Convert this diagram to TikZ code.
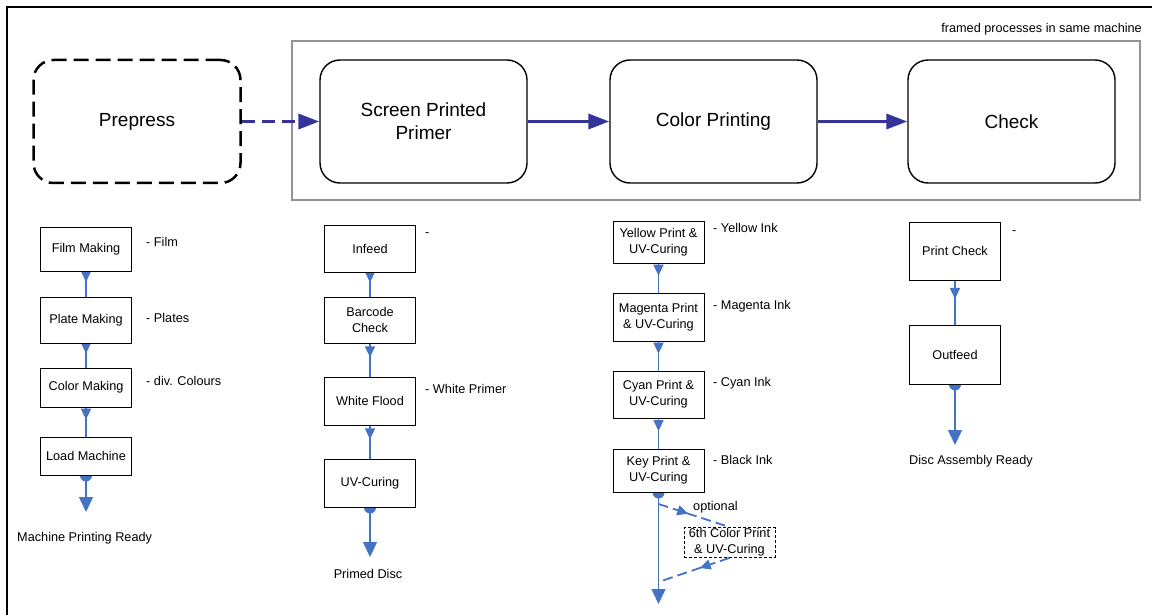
\documentclass[tikz,border=0pt]{standalone}
\usepackage{fontspec}
\setmainfont{Liberation Sans}
\usetikzlibrary{arrows.meta,decorations.markings,backgrounds,positioning}

\definecolor{flowblue}{RGB}{68,114,196}
\definecolor{mainblue}{RGB}{51,51,153}

\begin{document}
\begin{tikzpicture}[x=1pt,y=-1pt,
  stage/.style={draw, rounded corners=20pt, minimum width=207pt, minimum height=123pt, line width=1.4pt, align=center, fill=white, font=\fontsize{19}{23}\selectfont},
  task/.style={draw, minimum width=91pt, line width=1pt, align=center, fill=white, inner sep=1pt, font=\fontsize{12.7}{16}\selectfont},
  note/.style={anchor=west, inner sep=0pt, font=\fontsize{12.7}{16}\selectfont},
  bigarrow/.style={mainblue, line width=3.5pt, -{Triangle[length=21pt,width=15pt]}},
  link/.style={flowblue, line width=1.4pt, postaction={decorate},
    decoration={markings, mark=at position 0.42 with {\arrow{Triangle[length=11pt,width=10pt]}}}},
  optlink/.style={link, line width=1.8pt, dashed, dash pattern=on 10pt off 5pt},
  endlink/.style={flowblue, line width=1.4pt, -{Triangle[length=15pt,width=14pt]}},
  dot/.style={fill=flowblue}]
\useasboundingbox (0,0) rectangle (1152,615);
\draw[line width=2pt] (7,616) -- (7,7) -- (1153,7);

% machine frame
\node[draw=gray!85, line width=1.5pt, minimum width=848pt, minimum height=159pt] (frame) at (716,120.5) {};
\node[note, anchor=east] (framelbl) at (1142,29) {framed processes in same machine};

% main stages
\node[stage, dashed, dash pattern=on 15pt off 7pt, line width=2.5pt] (pre) at (137,121.5) {Prepress};
\node[stage] (spp) at (423.5,121.5) {Screen Printed\\Primer};
\node[stage] (cp) at (713.5,121.5) {Color Printing};
\node[stage] (chk) at (1011.5,121.5) {Check};
\draw[bigarrow, dashed, dash pattern=on 13pt off 7pt] (pre) -- (spp);
\draw[bigarrow] (spp) -- (cp);
\draw[bigarrow] (cp) -- (chk);

% prepress steps
\node[task, minimum height=44pt] (film) at (86,249) {Film Making};
\node[task, minimum height=46pt] (plate) at (86,320) {Plate Making};
\node[task, minimum height=39pt] (colmk) at (86,387.5) {Color Making};
\node[task, minimum height=38pt] (load) at (86,456) {Load Machine};
\coordinate (loadend) at (86,512);
\node[note] (mpr) at (17,538) {Machine Printing Ready};
\node[note] (nfilm) at (146,242) {- Film};
\node[note] (nplate) at (146,318) {- Plates};
\node[note] (ncol) at (146,381) {- div. Colours};

% primer steps
\node[task, minimum height=47pt] (infeed) at (370,248.5) {Infeed};
\node[task, minimum height=46pt] (barcode) at (370,320) {Barcode\\Check};
\node[task, minimum height=48pt] (white) at (370,401) {White Flood};
\node[task, minimum height=48pt] (uvc) at (370,483) {UV-Curing};
\coordinate (uvcend) at (370,557);
\node[note, anchor=center] (primed) at (368,574) {Primed Disc};
\node[note] (ninfeed) at (425,235) {-};
\node[note] (nwhite) at (425,389) {- White Primer};

% color steps
\node[task, minimum height=42pt] (yellow) at (658.5,242) {Yellow Print \&\\UV-Curing};
\node[task, minimum height=48pt] (magenta) at (658.5,317) {Magenta Print\\\& UV-Curing};
\node[task, minimum height=47pt] (cyan) at (658.5,394.5) {Cyan Print \&\\UV-Curing};
\node[task, minimum height=43pt] (key) at (658.5,470.5) {Key Print \&\\UV-Curing};
\node[task, dashed, dash pattern=on 3pt off 2pt] (sixth) at (729.5,542.5) {6th Color Print\\\& UV-Curing};
\coordinate (opta) at (658.5,504);
\coordinate (optb) at (658.5,582);
\coordinate (keyend) at (658.5,604);
\node[note] (optlbl) at (693,507) {optional};
\node[note] (nyellow) at (713,228) {- Yellow Ink};
\node[note] (nmagenta) at (713,306) {- Magenta Ink};
\node[note] (ncyan) at (713,383) {- Cyan Ink};
\node[note] (nkey) at (713,460) {- Black Ink};

% check steps
\node[task, minimum height=58pt] (pcheck) at (955,251) {Print Check};
\node[task, minimum height=59pt] (outfeed) at (955,354.5) {Outfeed};
\coordinate (outend) at (955,445);
\node[note] (dar) at (909,461) {Disc Assembly Ready};
\node[note] (npcheck) at (1012,233) {-};

\begin{scope}[on background layer]
\draw[link] (film) -- (plate);
\draw[link] (plate) -- (colmk);
\draw[link] (colmk) -- (load);
\fill[dot] (load.south) circle (6pt);
\draw[endlink] (load) -- (loadend);
\draw[link] (infeed) -- (barcode);
\draw[link] (barcode) -- (white);
\draw[link] (white) -- (uvc);
\fill[dot] (uvc.south) circle (6pt);
\draw[endlink] (uvc) -- (uvcend);
\draw[link] (yellow) -- (magenta);
\draw[link] (magenta) -- (cyan);
\draw[link] (cyan) -- (key);
\fill[dot] (key.south) circle (6pt);
\draw[endlink] (key) -- (keyend);
\draw[optlink] (opta) -- (sixth.north);
\draw[optlink] (sixth.south) -- (optb);
\draw[link] (pcheck) -- (outfeed);
\fill[dot] (outfeed.south) circle (6pt);
\draw[endlink] (outfeed) -- (outend);
\end{scope}
\end{tikzpicture}
\end{document}
